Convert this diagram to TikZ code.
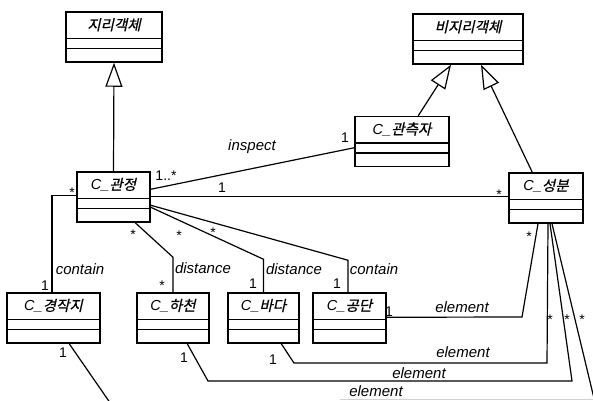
\documentclass[tikz,border=0pt]{standalone}
\usepackage{fontspec}
\setmainfont{Liberation Sans}
\newfontfamily\krfont[FakeSlant=0.22,FakeBold=0.6]{Noto Sans CJK KR}
\newcommand\kr[1]{{\krfont\upshape #1}}
\usetikzlibrary{arrows.meta,calc}
\tikzset{
 cls/.style={draw, line width=1.5pt, inner sep=0pt, fill=white},
 boxline/.style={line width=1.5pt},
 assoc/.style={line width=1.2pt},
 inh/.style={line width=1.2pt, -{Triangle[open,length=24pt,width=17pt,line width=1.2pt]}},
 clsname/.style={font=\fontsize{14.5}{16}\selectfont\itshape, inner sep=0pt},
 lbl/.style={font=\fontsize{15}{17}\selectfont\itshape, inner sep=0pt},
 mult/.style={font=\fontsize{14}{16}\selectfont, inner sep=0pt},
}
\newcommand\mkclass[5]{%
 \node[cls, minimum width=#4, minimum height=50] (#1) at (#2,#3) {};
 \draw[boxline] ($(#1.north west)+(0,27)$) -- ($(#1.north east)+(0,27)$);
 \draw[boxline] ($(#1.north west)+(0,37)$) -- ($(#1.north east)+(0,37)$);
 \node[clsname] at ($(#1.north)+(0,13.5)$) {#5};
}
\begin{document}
\begin{tikzpicture}[x=1pt,y=-1pt]
\useasboundingbox (0,0) rectangle (593,400);
\clip (0,0) rectangle (593,400);
\fill[white] (0,0) rectangle (593,400);

% classes
\mkclass{G1}{114}{37}{96}{\kr{지리객체}}
\mkclass{G2}{468}{39}{110}{\kr{비지리객체}}
\mkclass{obs}{402}{141.5}{94}{C\_\kr{관측자}}
\mkclass{gwj}{113.5}{197}{73}{C\_\kr{관정}}
\mkclass{sb}{546}{198}{74}{C\_\kr{성분}}
\mkclass{gjj}{53.5}{318}{93}{C\_\kr{경작지}}
\mkclass{hc}{173}{318}{72}{C\_\kr{하천}}
\mkclass{bd}{263.5}{318}{71}{C\_\kr{바다}}
\mkclass{gd}{349.5}{318}{73}{C\_\kr{공단}}

% inheritance
\draw[inh] (gwj.north) -- (G1.south);
\draw[inh] ($(obs.north west)+(64,0)$) -- ($(G2.south)+(-17,0)$);
\draw[inh] ($(sb.north west)+(24,0)$) -- ($(G2.south)+(13,0)$);

% free ends
\coordinate (end1) at (598,415);
\coordinate (end2) at (118.5,415);

% associations
\draw[assoc] ($(gwj.north east)+(0,18)$) -- ($(obs.north west)+(0,32)$);
\draw[assoc] ($(gwj.north east)+(0,25)$) -- ($(sb.north west)+(0,24)$);
\draw[assoc] ($(gwj.south west)+(59,0)$) -- ($(hc.north)+(0,-35)$) -- (hc.north);
\draw[assoc] ($(gwj.north east)+(0,36)$) -- ($(bd.north)+(0,-33)$) -- (bd.north);
\draw[assoc] ($(gwj.north east)+(0,34)$) -- ($(gd.north)+(-1.5,-32)$) -- ($(gd.north)+(-1.5,0)$);
\draw[assoc] ($(gwj.north west)+(0,24)$) -| ($(gjj.north)+(-1.5,0)$);
\draw[assoc] ($(gd.north east)+(0,25)$) -- (522,317) -- ($(sb.south)+(-8,0)$);
\draw[assoc] ($(bd.south west)+(54,0)$) -- (294,363) -- (547,363) -- ($(sb.south)+(2,0)$);
\draw[assoc] ($(hc.south west)+(51,0)$) -- (208,381) -- (572,381) -- ($(sb.south)+(4,0)$);
\draw[assoc] ($(sb.south)+(6,0)$) -- (end1);
\draw[assoc] ($(gjj.south west)+(63,0)$) -- (end2);

% labels
\node[lbl] (l1) at (252,147) {inspect};
\node[lbl] (l2) at (80,269) {contain};
\node[lbl] (l3) at (203,268) {distance};
\node[lbl] (l4) at (294,269) {distance};
\node[lbl] (l5) at (374,269) {contain};
\node[lbl] (l6) at (462,307) {element};
\node[lbl] (l7) at (463,352) {element};
\node[lbl] (l8) at (419,373) {element};
\node[lbl] (l9) at (376,391) {element};

% multiplicities
\node[mult] (m1) at (166,176) {1..*};
\node[mult] (m2) at (222,188) {1};
\node[mult] (m3) at (499,195) {*};
\node[mult] (m4) at (345,138) {1};
\node[mult] (m5) at (72,193) {*};
\node[mult] (m6) at (45,286) {1};
\node[mult] (m7) at (133,235) {*};
\node[mult] (m8) at (162,286) {*};
\node[mult] (m9) at (179,236) {*};
\node[mult] (m10) at (253,284) {1};
\node[mult] (m11) at (213,233) {*};
\node[mult] (m12) at (337,284) {1};
\node[mult] (m13) at (389,312) {1};
\node[mult] (m14) at (529,237) {*};
\node[mult] (m15) at (273,360) {1};
\node[mult] (m16) at (550,320) {*};
\node[mult] (m17) at (184,358) {1};
\node[mult] (m18) at (567,320) {*};
\node[mult] (m19) at (582,320) {*};
\node[mult] (m20) at (63,353) {1};

\draw[gray!35, line width=0.8pt] (340,399) -- (593,399);
\end{tikzpicture}
\end{document}
